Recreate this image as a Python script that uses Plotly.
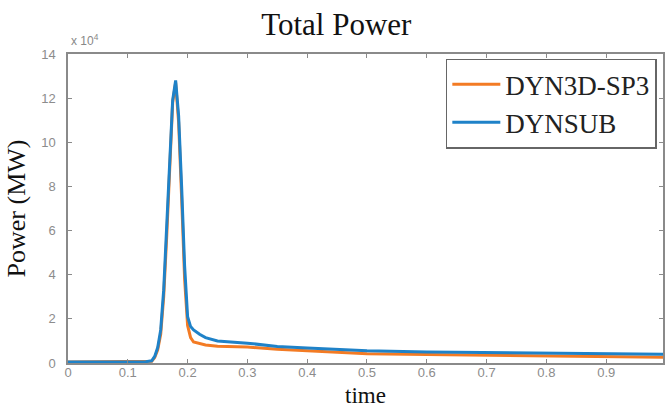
import plotly.graph_objects as go

# time (s)
t = [0, 0.05, 0.1, 0.13, 0.14, 0.145, 0.15, 0.155, 0.16, 0.165, 0.17, 0.175, 0.18,
     0.185, 0.19, 0.195, 0.2, 0.205, 0.21, 0.22, 0.23, 0.25, 0.3, 0.35, 0.4, 0.5,
     0.6, 0.7, 0.8, 0.9, 1.0]

# Power (MW), in units of 1e4
dynsub = [0.05, 0.05, 0.05, 0.06, 0.1, 0.3, 0.7, 1.5, 3.3, 6.0, 9.3, 11.9, 12.8,
          11.2, 8.0, 4.4, 2.1, 1.65, 1.5, 1.3, 1.15, 1.0, 0.9, 0.75, 0.68, 0.55,
          0.5, 0.48, 0.44, 0.41, 0.4]
dyn3d = [0.05, 0.05, 0.05, 0.05, 0.08, 0.25, 0.6, 1.3, 3.0, 5.7, 9.1, 11.8, 12.7,
         10.9, 7.5, 3.8, 1.7, 1.15, 0.95, 0.88, 0.82, 0.76, 0.72, 0.62, 0.55, 0.42,
         0.38, 0.35, 0.3, 0.27, 0.26]

scale = 1e4
y_ticks = [0, 2, 4, 6, 8, 10, 12, 14]
x_ticks = [0, 0.1, 0.2, 0.3, 0.4, 0.5, 0.6, 0.7, 0.8, 0.9]
x_labels = ["0", "0.1", "0.2", "0.3", "0.4", "0.5", "0.6", "0.7", "0.8", "0.9"]

serif = "Liberation Serif, Times New Roman, serif"
axis_col = "#8a8a8a"
tick_font = dict(family="Liberation Sans, Arial, sans-serif", size=13, color="#8c8c8c")

fig = go.Figure()
fig.add_trace(go.Scatter(x=t, y=[v * scale for v in dyn3d], mode="lines",
                         name="DYN3D-SP3", line=dict(color="#f37b24", width=3)))
fig.add_trace(go.Scatter(x=t, y=[v * scale for v in dynsub], mode="lines",
                         name="DYNSUB", line=dict(color="#1f82c8", width=3)))

fig.update_layout(
    width=666, height=409,
    margin=dict(l=68, r=1, t=54, b=46),
    paper_bgcolor="white", plot_bgcolor="white",
    title=dict(text="Total Power", x=0.505, xanchor="center", y=0.94, yanchor="middle",
               font=dict(family=serif, size=31, color="#111")),
    showlegend=True,
    legend=dict(x=0.635, xanchor="left", y=0.985, yanchor="top",
                font=dict(family=serif, size=27, color="#222"),
                bordercolor="#666", borderwidth=1.5, bgcolor="white",
                tracegroupgap=0, itemwidth=48),
    xaxis=dict(range=[0, 0.995], tickvals=x_ticks, ticktext=x_labels,
               ticks="inside", ticklen=4, tickcolor=axis_col, ticklabelstandoff=-3,
               showline=True, linecolor=axis_col, linewidth=1.5, mirror="ticks",
               showgrid=False, zeroline=False, tickfont=tick_font),
    yaxis=dict(range=[0, 14 * scale], tickvals=[v * scale for v in y_ticks],
               ticktext=[str(v) for v in y_ticks], ticklabelstandoff=8,
               ticks="inside", ticklen=4, tickcolor=axis_col,
               showline=True, linecolor=axis_col, linewidth=1.5, mirror="ticks",
               showgrid=False, zeroline=False, tickfont=tick_font,
               title=dict(text="Power (MW)", font=dict(family=serif, size=26, color="#111"),
                          standoff=8)),
)

fig.add_annotation(text="time", xref="paper", yref="paper", x=0.5, y=-32 / 309,
                   xanchor="center", yanchor="middle", showarrow=False,
                   font=dict(family=serif, size=23, color="#111"))

fig.add_annotation(text="x 10<sup>4</sup>", xref="paper", yref="paper", x=0.0, y=1.0,
                   xanchor="left", yanchor="bottom", showarrow=False,
                   xshift=1, yshift=4,
                   font=dict(family="Liberation Sans, Arial, sans-serif", size=12, color="#888"))

fig.write_html("out.html", config={"displayModeBar": False},
               post_script="document.body.style.margin='0';")
